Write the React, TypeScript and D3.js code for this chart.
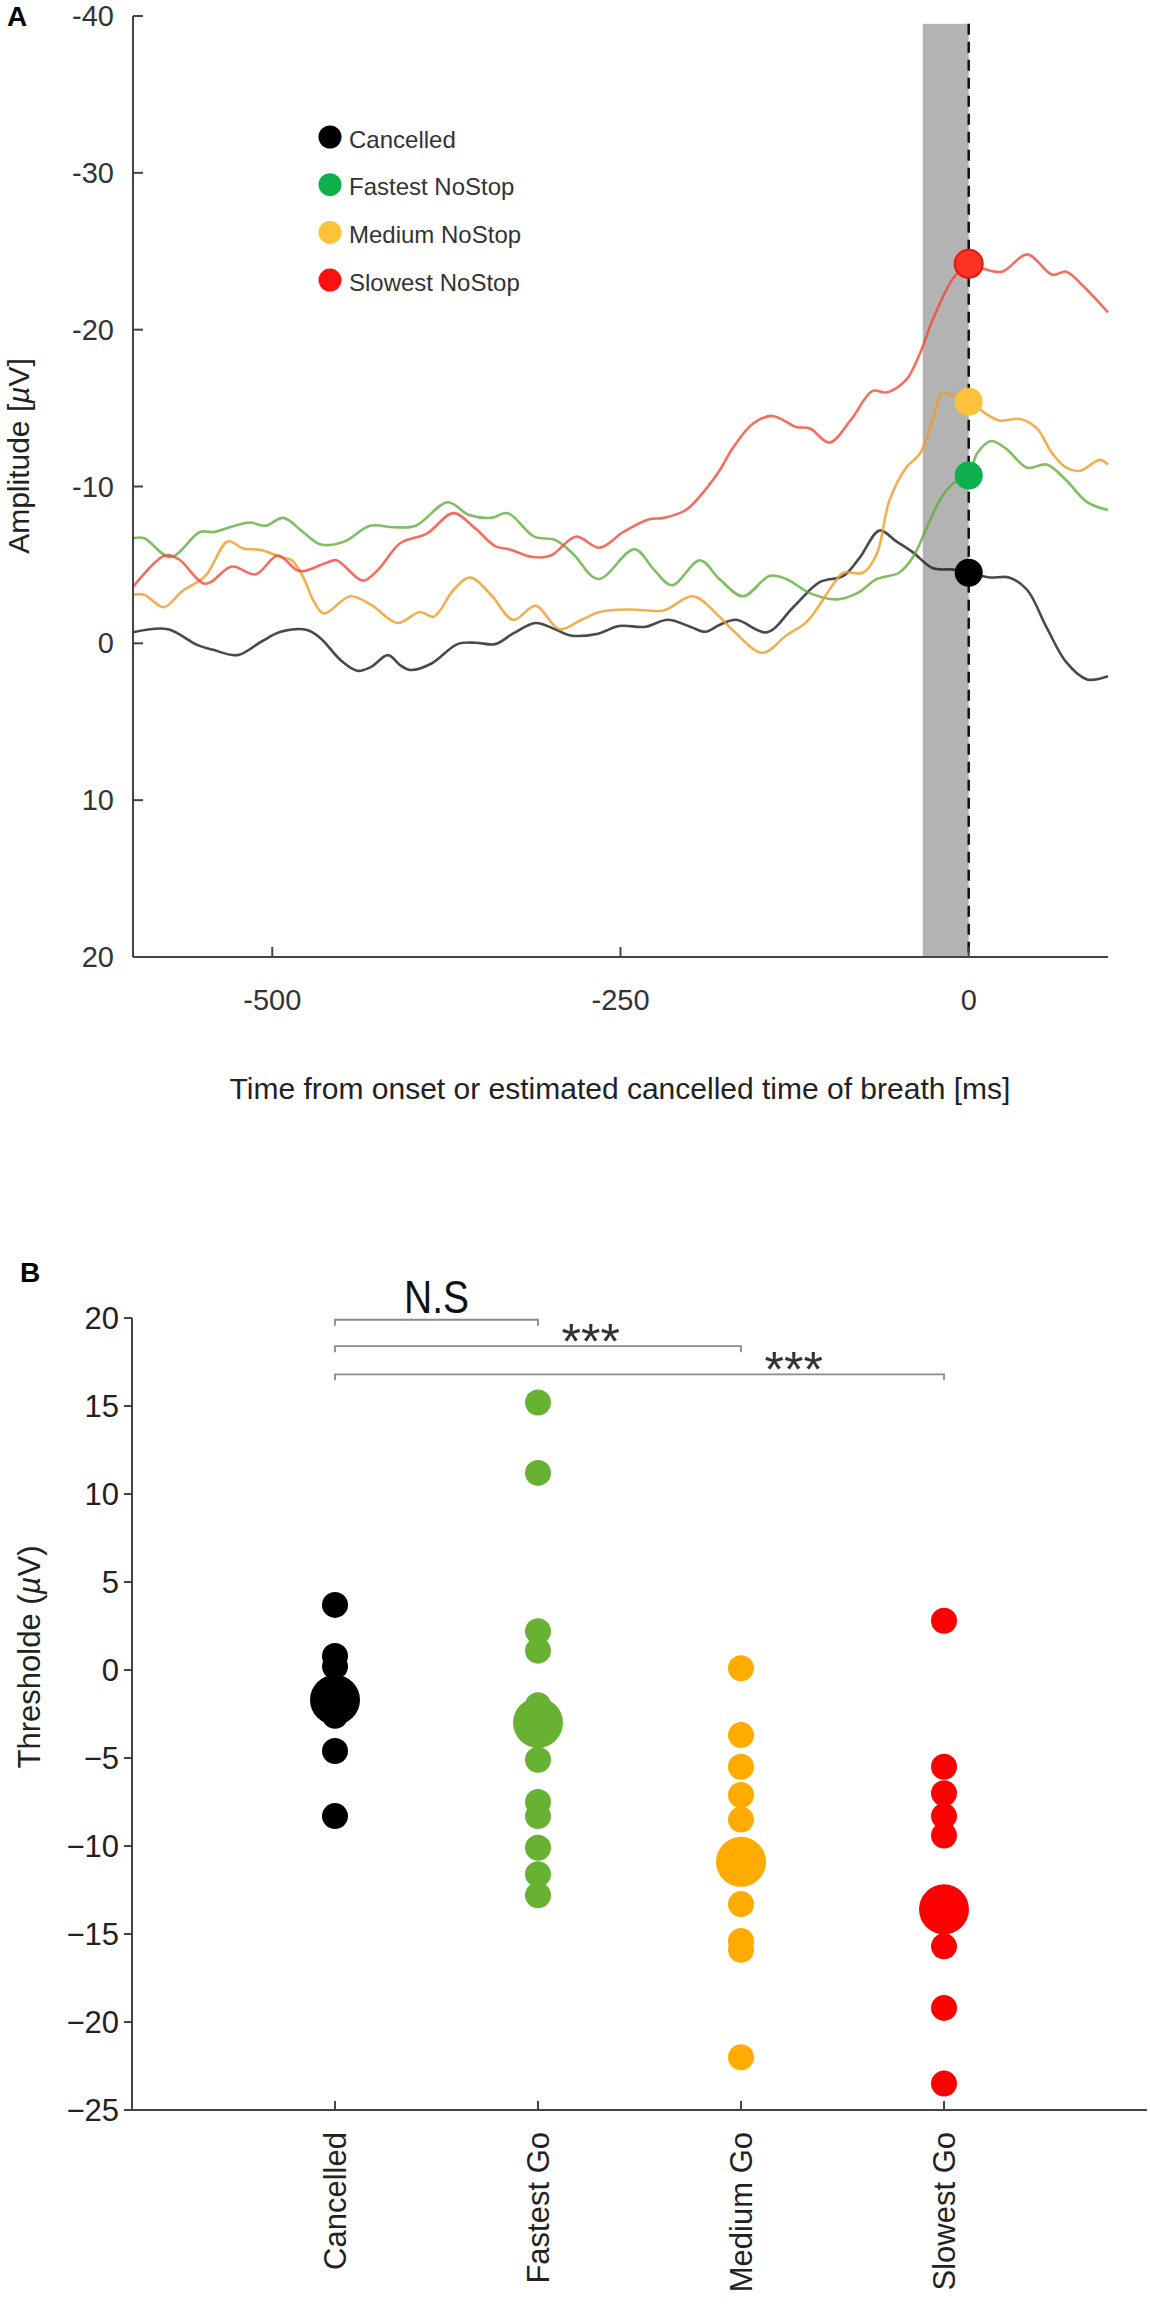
import React from "react";
import * as d3 from "d3";

type Pt = [number, number];

// ---- Panel A: averaged waveforms as [time (ms), amplitude (µV)] ----
const cancelledWave: Pt[] = [
  [-600, -0.7], [-575, -0.9], [-554, 0.1], [-543, 0.4], [-525, 0.75], [-508, -0.1],
  [-494, -0.74], [-475, -0.85], [-465, -0.3], [-451, 1.07], [-439, 1.75], [-429, 1.5],
  [-417, 0.75], [-408, 1.4], [-401, 1.7], [-386, 1.3], [-367, 0.05], [-354, -0.04],
  [-340, 0.05], [-327, -0.63], [-311, -1.3], [-297, -0.9], [-286, -0.5], [-267, -0.6],
  [-251, -1.1], [-232, -1.06], [-216, -1.5], [-200, -1.06], [-189, -0.74], [-179, -1.17],
  [-167, -1.5], [-145, -0.7], [-126, -2.3], [-107, -3.9], [-90, -4.3], [-78, -5.5],
  [-64, -7.2], [-52, -6.5], [-40, -5.8], [-26, -4.8], [-11, -4.7], [0, -4.5], [15, -4.2],
  [29, -4.2], [42, -3.4], [56, -1.0], [70, 1.2], [85, 2.3], [100, 2.1],
];

const fastestWave: Pt[] = [
  [-600, -6.7], [-592, -6.7], [-573, -5.5], [-552, -7.1], [-542, -7.1], [-527, -7.5],
  [-516, -7.7], [-505, -7.5], [-492, -8.0], [-478, -7.1], [-465, -6.3], [-448, -6.5],
  [-430, -7.5], [-413, -7.4], [-397, -7.5], [-374, -9.0], [-359, -8.2], [-343, -8.0],
  [-331, -8.3], [-312, -6.8], [-297, -6.6], [-284, -5.7], [-266, -4.1], [-240, -6.0],
  [-226, -4.7], [-213, -3.7], [-193, -5.3], [-179, -4.1], [-162, -3.0], [-143, -4.3],
  [-131, -4.1], [-114, -3.2], [-95, -2.8], [-80, -3.2], [-66, -4.1], [-50, -4.5],
  [-40, -5.5], [-30, -7.4], [-21, -9.1], [-11, -10.2], [0, -10.7], [6, -12.1],
  [16, -12.9], [27, -12.4], [42, -11.2], [56, -11.4], [70, -10.4], [85, -9.0], [100, -8.5],
];

const mediumWave: Pt[] = [
  [-600, -3.1], [-592, -3.1], [-578, -2.3], [-565, -3.3], [-548, -4.3], [-532, -6.5],
  [-521, -6.05], [-508, -5.95], [-494, -5.5], [-486, -5.3], [-478, -4.25], [-470, -2.65],
  [-463, -1.9], [-444, -3.0], [-429, -2.45], [-410, -1.3], [-394, -2.0], [-384, -1.7],
  [-370, -3.4], [-358, -4.2], [-343, -3.1], [-327, -1.5], [-311, -2.4], [-294, -0.9],
  [-278, -1.5], [-265, -2.0], [-243, -2.16], [-219, -2.1], [-198, -3.0], [-179, -1.7],
  [-169, -0.8], [-148, 0.6], [-131, -0.5], [-116, -1.4], [-97, -3.8], [-90, -4.5],
  [-76, -4.5], [-66, -5.7], [-57, -9.1], [-45, -11.2], [-35, -12.1], [-26, -14.2],
  [-19, -16.0], [-14, -15.9], [0, -15.4], [13, -14.6], [22, -14.2], [37, -14.3],
  [49, -13.7], [60, -12.1], [70, -11.2], [80, -11.0], [94, -11.7], [100, -11.4],
];

const slowestWave: Pt[] = [
  [-600, -3.6], [-577, -5.6], [-567, -5.35], [-548, -3.8], [-529, -4.9], [-512, -4.4],
  [-496, -5.6], [-483, -4.7], [-478, -4.6], [-462, -5.1], [-454, -5.3], [-435, -4.0],
  [-424, -4.7], [-408, -6.4], [-389, -7.0], [-370, -8.3], [-354, -7.3], [-340, -6.2],
  [-330, -6.0], [-313, -5.5], [-300, -5.6], [-282, -6.8], [-265, -6.1], [-248, -7.1],
  [-230, -7.9], [-219, -8.0], [-203, -8.5], [-189, -9.8], [-179, -11.0], [-169, -12.5],
  [-155, -14.0], [-141, -14.5], [-124, -13.8], [-114, -13.7], [-100, -12.8], [-85, -14.2],
  [-69, -16.1], [-59, -16.0], [-45, -16.8], [-35, -18.5], [-26, -20.6], [-11, -23.3],
  [0, -24.2], [10, -23.9], [24, -23.7], [42, -24.8], [60, -23.5], [70, -23.7],
  [82, -22.8], [98, -21.3], [100, -21.1],
];

const waveNames = ["Cancelled", "Fastest NoStop", "Medium NoStop", "Slowest NoStop"];
const onsetValues = [-4.5, -10.7, -15.4, -24.2];
const ampTicks = [-40, -30, -20, -10, 0, 10, 20];
const timeTicks = [-500, -250, 0];
const windowRange: [number, number] = [-33, 0];

// ---- Panel B: thresholds per participant (µV) ----
const groupNames = ["Cancelled", "Fastest Go", "Medium Go", "Slowest Go"];
const cancelledThr = [3.7, 0.8, 0.2, -1.5, -2.6, -4.6, -8.3];
const fastestThr = [15.2, 11.2, 2.2, 1.1, -2.0, -3.4, -5.1, -7.5, -8.3, -10.1, -11.6, -12.8];
const mediumThr = [0.1, -3.7, -5.5, -7.1, -8.5, -11.5, -13.3, -15.4, -15.9, -22.0];
const slowestThr = [2.8, -5.5, -7.0, -8.3, -9.4, -13.8, -15.7, -19.2, -23.5];
const groupMeans = [-1.7, -3.0, -10.9, -13.6];
const thrTicks = [20, 15, 10, 5, 0, -5, -10, -15, -20, -25];
const brackets = [
  { from: 0, to: 1, level: 19.9, label: "N.S" },
  { from: 0, to: 2, level: 18.4, label: "***" },
  { from: 0, to: 3, level: 16.8, label: "***" },
];

const waves = [cancelledWave, fastestWave, mediumWave, slowestWave];
const groups = [cancelledThr, fastestThr, mediumThr, slowestThr];

const lineColors = ["#1c1c1c", "#5fae3a", "#f39a22", "#f2473a"];
const legendColors = ["#000000", "#0db14b", "#fcc23a", "#ff1010"];
const dotColors = ["#000000", "#68b233", "#ffab00", "#ff0000"];

const FONT = "'Liberation Sans', Arial, Helvetica, sans-serif";
const AXIS = "#444";

function PanelA() {
  const x = d3.scaleLinear().domain([-600, 100]).range([133, 1108]);
  const y = d3.scaleLinear().domain([-40, 20]).range([16, 957]);
  const line = d3
    .line<Pt>()
    .x((d) => x(d[0]))
    .y((d) => y(d[1]))
    .curve(d3.curveCatmullRom.alpha(0.5));

  const top = y(-39.5);

  return (
    <g fontFamily={FONT}>
      <text x={7} y={26} fontSize={28} fontWeight="bold" fill="#000">A</text>

      {/* analysis window */}
      <rect
        x={x(windowRange[0])}
        y={top}
        width={x(windowRange[1]) - x(windowRange[0])}
        height={y(20) - top}
        fill="#b3b3b3"
      />
      <line x1={x(0)} x2={x(0)} y1={top} y2={y(20)} stroke="#111" strokeWidth={2.5} strokeDasharray="11 7" />

      {waves.map((w, i) => (
        <path key={i} d={line(w) ?? ""} fill="none" stroke={lineColors[i]} strokeOpacity={0.8} strokeWidth={2.6} />
      ))}

      {onsetValues.map((v, i) => (
        <circle
          key={i}
          cx={x(0)}
          cy={y(v)}
          r={14}
          fill={i === 3 ? "#ff3322" : legendColors[i]}
          stroke={i === 3 ? "#e01a10" : "none"}
          strokeWidth={2}
        />
      ))}

      {/* axes */}
      <line x1={133} x2={133} y1={y(-40)} y2={y(20)} stroke={AXIS} strokeWidth={2} />
      <line x1={133} x2={x(100)} y1={y(20)} y2={y(20)} stroke={AXIS} strokeWidth={2} />
      {ampTicks.map((t) => (
        <g key={t}>
          <line x1={133} x2={143} y1={y(t)} y2={y(t)} stroke={AXIS} strokeWidth={2} />
          <text x={114} y={y(t)} fontSize={29} textAnchor="end" dominantBaseline="central" fill="#333">
            {t}
          </text>
        </g>
      ))}
      {timeTicks.map((t) => (
        <g key={t}>
          <line x1={x(t)} x2={x(t)} y1={y(20)} y2={y(20) - 10} stroke={AXIS} strokeWidth={2} />
          <text x={x(t)} y={1000} fontSize={29} textAnchor="middle" dominantBaseline="central" fill="#333">
            {t}
          </text>
        </g>
      ))}

      <text
        transform="translate(18,456) rotate(-90)"
        fontSize={30}
        textAnchor="middle"
        dominantBaseline="central"
        fill="#222"
      >
        Amplitude [<tspan fontStyle="italic">µ</tspan>V]
      </text>
      <text x={620} y={1088} fontSize={30} textAnchor="middle" dominantBaseline="central" fill="#222">
        Time from onset or estimated cancelled time of breath [ms]
      </text>

      {/* legend */}
      {waveNames.map((n, i) => (
        <g key={n}>
          <circle cx={330} cy={137 + i * 47.7} r={11.5} fill={legendColors[i]} />
          <text x={349} y={139 + i * 47.7} fontSize={24} dominantBaseline="central" fill="#333">
            {n}
          </text>
        </g>
      ))}
    </g>
  );
}

function PanelB() {
  const x = d3.scaleLinear().domain([0, 5]).range([132, 1147]);
  const y = d3.scaleLinear().domain([-25, 20]).range([2110, 1318]);
  const fmt = (t: number) => (t < 0 ? "\u2212" + Math.abs(t) : String(t));

  return (
    <g fontFamily={FONT}>
      <text x={20} y={1282} fontSize={28} fontWeight="bold" fill="#000">B</text>

      {/* significance brackets */}
      {brackets.map((b, i) => {
        const x1 = x(b.from + 1);
        const x2 = x(b.to + 1);
        const yy = y(b.level);
        return (
          <g key={i}>
            <path
              d={`M${x1},${yy + 6}V${yy}H${x2}V${yy + 6}`}
              fill="none"
              stroke="#8a8a8a"
              strokeWidth={1.8}
            />
            {b.label === "N.S" ? (
              <text
                x={(x1 + x2) / 2}
                y={yy - 7}
                fontSize={46}
                textAnchor="middle"
                fill="#111"
                textLength={65}
                lengthAdjust="spacingAndGlyphs"
              >
                {b.label}
              </text>
            ) : (
              <text x={x(b.to + 0.26)} y={yy + 13} fontSize={50} textAnchor="middle" fill="#333">
                {b.label}
              </text>
            )}
          </g>
        );
      })}

      {groups.map((vals, gi) => (
        <g key={gi} fill={dotColors[gi]}>
          {vals.map((v, j) => (
            <circle key={j} cx={x(gi + 1)} cy={y(v)} r={13} />
          ))}
          <circle cx={x(gi + 1)} cy={y(groupMeans[gi])} r={25} />
        </g>
      ))}

      {/* axes */}
      <line x1={x(0)} x2={x(0)} y1={y(20)} y2={y(-25)} stroke={AXIS} strokeWidth={2} />
      <line x1={x(0)} x2={x(5)} y1={y(-25)} y2={y(-25)} stroke={AXIS} strokeWidth={2} />
      {thrTicks.map((t) => (
        <g key={t}>
          <line x1={x(0) - 8} x2={x(0)} y1={y(t)} y2={y(t)} stroke={AXIS} strokeWidth={2} />
          <text x={119} y={y(t)} fontSize={31} textAnchor="end" dominantBaseline="central" fill="#222">
            {fmt(t)}
          </text>
        </g>
      ))}
      {groupNames.map((n, i) => (
        <g key={n}>
          <line x1={x(i + 1)} x2={x(i + 1)} y1={y(-25)} y2={y(-25) - 9} stroke={AXIS} strokeWidth={2} />
          <text
            transform={`translate(${x(i + 1)},${y(-25) + 22}) rotate(-90)`}
            fontSize={31}
            textAnchor="end"
            dominantBaseline="central"
            fill="#222"
          >
            {n}
          </text>
        </g>
      ))}

      <text
        transform="translate(29,1657) rotate(-90)"
        fontSize={31}
        textAnchor="middle"
        dominantBaseline="central"
        fill="#222"
      >
        Thresholde (<tspan fontStyle="italic">µ</tspan>V)
      </text>
    </g>
  );
}

export default function App() {
  return (
    <svg
      width={1150}
      height={2307}
      style={{ position: "absolute", left: 0, top: 0, background: "#fff" }}
    >
      <rect width={1150} height={2307} fill="#fff" />
      <PanelA />
      <PanelB />
    </svg>
  );
}
